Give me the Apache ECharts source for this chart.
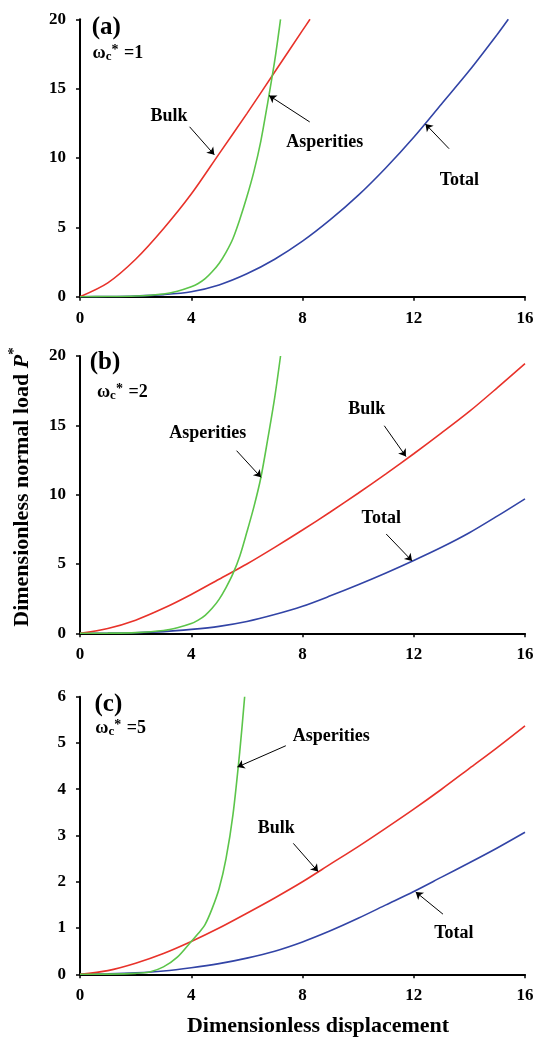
<!DOCTYPE html>
<html><head><meta charset="utf-8">
<script src="https://cdn.jsdelivr.net/npm/echarts@6/dist/echarts.min.js"></script>
<style>html,body{margin:0;padding:0;background:#fff}#c{width:537px;height:1037px}</style>
</head><body><div id="c"></div>
<script>
// ---- data ----
const panelLabels = ['(a)', '(b)', '(c)'];
const omegaValues = ['1', '2', '5'];
const yMax = [20, 20, 6];
const yStep = [5, 5, 1];

const xFull = [0,1,2,3,4,5,6,7,8,9,10,11,12,13,14,15,16];

const bulkA_x = [0,1,2,3,4,5,6,7,8,8.27];
const bulkA_y = [0,1.0,2.7,4.9,7.4,10.3,13.2,16.2,19.2,20];
const aspA_x = [0,1,2,3,3.5,4,4.25,4.5,4.75,5,5.25,5.5,5.75,6,6.25,6.5,6.75,7,7.21];
const aspA_y = [0,0.01,0.05,0.2,0.4,0.72,0.95,1.3,1.8,2.4,3.2,4.2,5.6,7.2,9.0,11.2,14.0,17.0,20];
const totalA_x = [0,1,2,3,4,5,6,7,8,9,10,11,12,13,14,15,15.4];
const totalA_y = [0,0.01,0.05,0.15,0.36,0.85,1.65,2.7,4.0,5.55,7.3,9.3,11.5,13.9,16.3,18.9,20];

const bulkB_y = [0,0.35,0.95,1.8,2.8,3.9,5.0,6.2,7.45,8.75,10.1,11.5,12.95,14.45,16.0,17.7,19.45];
const aspB_x = [0,1,2,3,3.5,4,4.25,4.5,4.75,5,5.25,5.5,5.75,6,6.25,6.5,6.75,7,7.21];
const aspB_y = [0,0.01,0.05,0.2,0.4,0.7,0.95,1.3,1.8,2.45,3.3,4.3,5.6,7.3,9.1,11.2,14.0,17.0,20];
const totalB_y = [0,0.01,0.04,0.12,0.28,0.5,0.85,1.35,1.95,2.7,3.5,4.35,5.25,6.2,7.25,8.45,9.7];

const bulkC_y = [0,0.08,0.24,0.45,0.71,1.0,1.32,1.65,2.0,2.38,2.76,3.16,3.57,4.0,4.45,4.9,5.37];
const aspC_x = [0,1,2,2.5,3,3.5,4,4.25,4.5,4.75,5,5.25,5.5,5.75,5.92];
const aspC_y = [0,0.003,0.02,0.05,0.16,0.37,0.71,0.88,1.08,1.42,1.85,2.5,3.45,4.85,6.0];
const totalC_y = [0,0.01,0.03,0.07,0.14,0.23,0.35,0.5,0.7,0.94,1.21,1.5,1.79,2.1,2.41,2.73,3.07];

const xTitle = 'Dimensionless displacement';
const yTitle = 'Dimensionless normal load ';

// ---- styling / layout ----
const FONT = '"Liberation Serif", "Times New Roman", serif';
const COLORS = { Total: '#3244a6', Bulk: '#e8322a', Asperities: '#5cc54a' };
const grids = [
  { left: 80, right: 12, top: 19.3, height: 277.4 },
  { left: 80, right: 12, top: 356, height: 277.3 },
  { left: 80, right: 12, top: 696.7, height: 277.6 }
];

const zip = (xs, ys) => xs.map((x, i) => [x, ys[i]]);
const panels = [
  { Total: zip(totalA_x, totalA_y), Bulk: zip(bulkA_x, bulkA_y), Asperities: zip(aspA_x, aspA_y) },
  { Total: zip(xFull, totalB_y), Bulk: zip(xFull, bulkB_y), Asperities: zip(aspB_x, aspB_y) },
  { Total: zip(xFull, totalC_y), Bulk: zip(xFull, bulkC_y), Asperities: zip(aspC_x, aspC_y) }
];

// annotation placement (text centre, arrow start -> arrow tip), in axis units
const notes = [
  { Bulk: { t: [3.2, 13.0], a: [[3.94, 12.25], [4.83, 10.23]] },
    Asperities: { t: [8.8, 11.1], a: [[8.26, 12.6], [6.8, 14.5]] },
    Total: { t: [13.64, 8.36], a: [[13.27, 10.67], [12.42, 12.45]] } },
  { Bulk: { t: [10.31, 16.17], a: [[10.94, 14.97], [11.72, 12.75]] },
    Asperities: { t: [4.59, 14.44], a: [[5.63, 13.17], [6.51, 11.25]] },
    Total: { t: [10.83, 8.31], a: [[11.01, 7.16], [11.94, 5.22]] } },
  { Bulk: { t: [7.06, 3.15], a: [[7.67, 2.83], [8.56, 2.22]] },
    Asperities: { t: [9.03, 5.15], a: [[7.40, 4.94], [5.66, 4.48]] },
    Total: { t: [13.44, 0.89], a: [[13.05, 1.30], [12.07, 1.78]] } }
];
const headPos = [
  { panel: [0.42, 19.4], omega: [0.45, 17.55] },
  { panel: [0.35, 19.5], omega: [0.61, 17.4] },
  { panel: [0.52, 5.84], omega: [0.55, 5.32] }
];

const xAxis = [], yAxis = [], series = [];
grids.forEach((g, i) => {
  xAxis.push({
    type: 'value', gridIndex: i, min: 0, max: 16, interval: 4,
    axisLine: { show: true, onZero: false, lineStyle: { color: '#000', width: 2 } },
    axisTick: { show: true, inside: false, length: 4, lineStyle: { color: '#000', width: 1.5 } },
    axisLabel: { margin: 13, color: '#000', fontFamily: FONT, fontWeight: 'bold', fontSize: 17 },
    splitLine: { show: false }
  });
  yAxis.push({
    type: 'value', gridIndex: i, min: 0, max: yMax[i], interval: yStep[i],
    axisLine: { show: true, onZero: false, lineStyle: { color: '#000', width: 2 } },
    axisTick: { show: true, inside: false, length: 4, lineStyle: { color: '#000', width: 1.5 } },
    axisLabel: { margin: 14, color: '#000', fontFamily: FONT, fontWeight: 'bold', fontSize: 17 },
    splitLine: { show: false }
  });
  ['Total', 'Bulk', 'Asperities'].forEach((name, k) => {
    const n = notes[i][name];
    const s = {
      name: name, type: 'line', xAxisIndex: i, yAxisIndex: i,
      data: panels[i][name], showSymbol: false, symbol: 'none',
      smooth: 0.3, clip: true,
      lineStyle: { color: COLORS[name], width: 1.6 },
      z: 2 + k, silent: true,
      markLine: {
        silent: true, symbol: ['none', 'arrow'], symbolSize: 7,
        lineStyle: { color: '#000', width: 1, type: 'solid' },
        label: { show: false },
        emphasis: { disabled: true },
        data: [[{ coord: n.a[0] }, { coord: n.a[1] }]]
      },
      markPoint: {
        silent: true, symbol: 'circle', symbolSize: 0,
        label: {
          show: true, position: 'inside', formatter: '{b}', color: '#000',
          fontFamily: FONT, fontWeight: 'bold', fontSize: 18
        },
        data: [{ name: name, coord: n.t }]
      }
    };
    if (name === 'Total') {
      s.markPoint.data.push({
        name: panelLabels[i], coord: headPos[i].panel,
        label: { position: 'right', distance: 0, fontSize: 25, fontFamily: FONT, fontWeight: 'bold', color: '#000' }
      });
      s.markPoint.data.push({
        name: omegaValues[i], coord: headPos[i].omega,
        label: {
          position: 'right', distance: 0,
          formatter: p => '{w|ω}{sub|c}{sup|*}{w| =' + p.name + '}',
          rich: {
            w: { fontFamily: FONT, fontWeight: 'bold', fontSize: 18, color: '#000', lineHeight: 24 },
            sub: { fontFamily: FONT, fontWeight: 'bold', fontSize: 13, color: '#000', lineHeight: 13, verticalAlign: 'bottom', padding: [0, 0, 2, 0] },
            sup: { fontFamily: FONT, fontWeight: 'bold', fontSize: 14, color: '#000', lineHeight: 14, verticalAlign: 'top', padding: [2, 1, 0, 0] }
          }
        }
      });
    }
    series.push(s);
  });
});

const chart = echarts.init(document.getElementById('c'), null, { renderer: 'canvas' });
chart.setOption({
  animation: false,
  backgroundColor: '#fff',
  grid: grids,
  xAxis: xAxis,
  yAxis: yAxis,
  series: series,
  graphic: [
    {
      type: 'text', x: 318, y: 1026,
      style: { text: xTitle, fill: '#000', font: 'bold 22px ' + FONT, align: 'center', verticalAlign: 'middle' }
    },
    {
      type: 'text', x: 22, y: 487, rotation: Math.PI / 2,
      style: {
        text: '{n|' + yTitle + '}{p|P}{s|*}',
        align: 'center', verticalAlign: 'middle', fill: '#000',
        rich: {
          n: { fontFamily: FONT, fontWeight: 'bold', fontSize: 22, fill: '#000', lineHeight: 30 },
          p: { fontFamily: FONT, fontWeight: 'bold', fontStyle: 'italic', fontSize: 22, fill: '#000', lineHeight: 30 },
          s: { fontFamily: FONT, fontWeight: 'bold', fontSize: 15, fill: '#000', lineHeight: 15, verticalAlign: 'top' }
        }
      }
    }
  ]
});
</script></body></html>
